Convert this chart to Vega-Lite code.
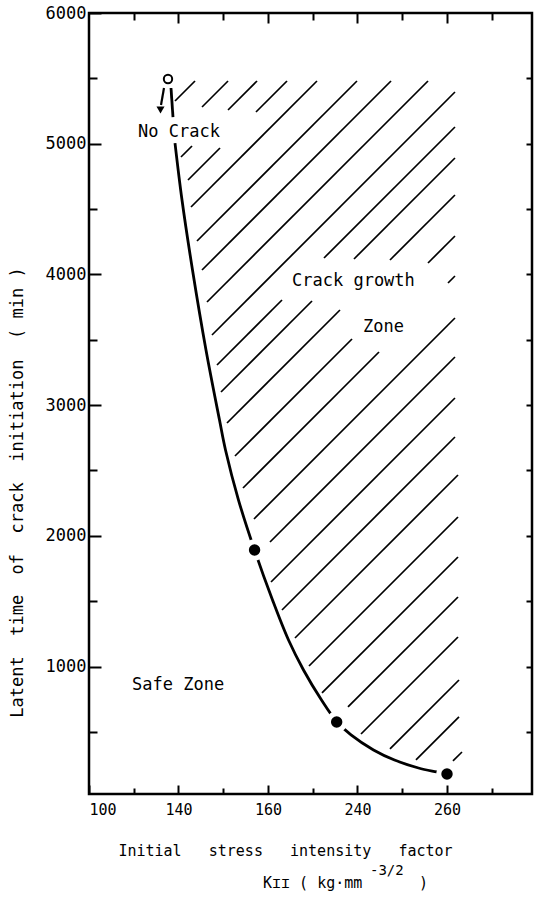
{
  "$schema": "https://vega.github.io/schema/vega-lite/v6.json",
  "width": 443,
  "height": 781,
  "autosize": {"type": "none"},
  "padding": {"left": 89, "top": 13, "right": 2, "bottom": 104},
  "background": "white",
  "config": {
    "view": {"stroke": "black", "strokeWidth": 2.5},
    "font": "DejaVu Sans Mono",
    "axis": {
      "domain": false, "grid": false, "tickColor": "black", "tickWidth": 2,
      "labelColor": "black", "titleColor": "black",
      "labelFont": "DejaVu Sans Mono", "titleFont": "DejaVu Sans Mono",
      "titleFontWeight": "normal"
    }
  },
  "datasets": {
    "curve": [
      {"x": 136.65, "y": 5426, "s": "a"}, {"x": 137.54, "y": 5204, "s": "a"},
      {"x": 138.44, "y": 5005, "s": "b"}, {"x": 141.57, "y": 4569, "s": "b"},
      {"x": 146.26, "y": 4034, "s": "b"}, {"x": 152.29, "y": 3422, "s": "b"},
      {"x": 158.33, "y": 2886, "s": "b"}, {"x": 161.01, "y": 2657, "s": "b"},
      {"x": 166.82, "y": 2274, "s": "b"}, {"x": 173.97, "y": 1892, "s": "b"},
      {"x": 182.02, "y": 1509, "s": "b"}, {"x": 189.17, "y": 1203, "s": "b"},
      {"x": 195.87, "y": 974, "s": "b"}, {"x": 203.92, "y": 744, "s": "b"},
      {"x": 210.85, "y": 576, "s": "b"}, {"x": 217.11, "y": 477, "s": "b"},
      {"x": 227.16, "y": 362, "s": "b"}, {"x": 236.54, "y": 285, "s": "b"},
      {"x": 247.27, "y": 224, "s": "b"}, {"x": 255.32, "y": 194, "s": "b"},
      {"x": 260.01, "y": 178, "s": "b"}
    ],
    "hatch": [
      {"x": 138.44, "y": 5326.7, "x2": 147.38, "y2": 5479.7},
      {"x": 150.51, "y": 5280.8, "x2": 162.13, "y2": 5479.7},
      {"x": 162.13, "y": 5257.8, "x2": 175.09, "y2": 5479.7},
      {"x": 141.12, "y": 4898.3, "x2": 146.04, "y2": 4982.4},
      {"x": 174.64, "y": 5242.5, "x2": 188.50, "y2": 5479.7},
      {"x": 144.25, "y": 4722.3, "x2": 158.55, "y2": 4967.1},
      {"x": 145.59, "y": 4515.8, "x2": 201.90, "y2": 5479.7},
      {"x": 148.27, "y": 4255.7, "x2": 219.78, "y2": 5479.7},
      {"x": 150.51, "y": 4033.8, "x2": 234.98, "y2": 5479.7},
      {"x": 152.74, "y": 3789.0, "x2": 251.52, "y2": 5479.7},
      {"x": 154.97, "y": 3536.6, "x2": 263.58, "y2": 5395.5},
      {"x": 157.21, "y": 3307.1, "x2": 186.26, "y2": 3804.3},
      {"x": 205.03, "y": 4125.6, "x2": 263.58, "y2": 5127.8},
      {"x": 159.00, "y": 3100.5, "x2": 199.67, "y2": 3796.7},
      {"x": 218.44, "y": 4118.0, "x2": 263.58, "y2": 4890.6},
      {"x": 161.68, "y": 2863.4, "x2": 212.18, "y2": 3727.8},
      {"x": 234.53, "y": 4110.3, "x2": 263.58, "y2": 4607.6},
      {"x": 165.25, "y": 2610.9, "x2": 217.55, "y2": 3506.0},
      {"x": 251.52, "y": 4087.4, "x2": 263.58, "y2": 4293.9},
      {"x": 168.83, "y": 2366.1, "x2": 229.62, "y2": 3406.5},
      {"x": 260.46, "y": 3934.4, "x2": 263.58, "y2": 3987.9},
      {"x": 173.75, "y": 2129.0, "x2": 263.58, "y2": 3666.6},
      {"x": 180.90, "y": 1953.0, "x2": 263.58, "y2": 3368.3},
      {"x": 181.35, "y": 1647.0, "x2": 263.58, "y2": 3054.6},
      {"x": 186.26, "y": 1432.8, "x2": 263.58, "y2": 2756.3},
      {"x": 192.07, "y": 1218.6, "x2": 264.93, "y2": 2465.6},
      {"x": 198.33, "y": 1004.4, "x2": 264.93, "y2": 2144.3},
      {"x": 204.14, "y": 797.9, "x2": 264.93, "y2": 1838.3},
      {"x": 215.76, "y": 690.8, "x2": 264.93, "y2": 1532.3},
      {"x": 221.57, "y": 484.2, "x2": 264.93, "y2": 1226.3},
      {"x": 234.53, "y": 369.5, "x2": 265.37, "y2": 897.3},
      {"x": 246.15, "y": 285.3, "x2": 265.37, "y2": 614.3},
      {"x": 262.69, "y": 277.7, "x2": 266.71, "y2": 346.5}
    ],
    "dots": [
      {"x": 174.0, "y": 1892}, {"x": 210.7, "y": 576}, {"x": 260.01, "y": 178}
    ],
    "open": [{"x": 135.31, "y": 5495}],
    "arrow": [{"x": 133.52, "y": 5426, "x2": 132.18, "y2": 5296}],
    "head": [{"x": 131.96, "y": 5258}],
    "notes": [
      {"x": 121.9, "y": 5051, "t": "No Crack"},
      {"x": 190.73, "y": 3911, "t": "Crack growth"},
      {"x": 222.46, "y": 3556, "t": "Zone"},
      {"x": 119.22, "y": 821, "t": "Safe Zone"}
    ],
    "unit": [{"x": 177.77, "y": -694, "t": "Kɪɪ\u00a0(\u00a0kg·mm"}, {"x": 247.5, "y": -694, "t": ")"}],
    "sup": [{"x": 225.6, "y": -594, "t": "-3/2"}]
  },
  "layer": [
    {
      "data": {"name": "hatch"},
      "mark": {"type": "rule", "color": "black", "strokeWidth": 1.7},
      "encoding": {
        "x": {"field": "x", "type": "quantitative", "scale": {"domain": [100, 298], "nice": false, "zero": false},
          "axis": {"orient": "top", "values": [120, 140, 160, 180, 200, 220, 240, 260, 280], "labels": false, "title": null,
            "tickSize": {"condition": {"test": "datum.value % 40 === 20", "value": -10}, "value": -7}}},
        "y": {"field": "y", "type": "quantitative", "scale": {"domain": [25, 6000], "nice": false, "zero": false},
          "axis": {"orient": "right", "values": [500, 1000, 1500, 2000, 2500, 3000, 3500, 4000, 4500, 5000, 5500], "labels": false, "title": null, "tickSize": -6}},
        "x2": {"field": "x2"},
        "y2": {"field": "y2"}
      }
    },
    {
      "data": {"name": "curve"},
      "mark": {"type": "line", "color": "black", "strokeWidth": 2.8, "interpolate": "catmull-rom"},
      "encoding": {
        "x": {"field": "x", "type": "quantitative", "scale": {"domain": [100, 298], "nice": false, "zero": false},
          "axis": {"orient": "bottom", "values": [100, 120, 140, 160, 180, 200, 220, 240, 260, 280],
            "labelExpr": "datum.value === 100 ? '100' : datum.value === 140 ? '140' : datum.value === 180 ? '160' : datum.value === 220 ? '240' : datum.value === 260 ? '260' : ''",
            "labelFontSize": 15, "labelPadding": 17,
            "tickSize": {"condition": {"test": "datum.value % 40 === 20", "value": -9}, "value": -6},
            "title": "Initial\u00a0\u00a0\u00a0stress\u00a0\u00a0\u00a0intensity\u00a0\u00a0\u00a0factor",
            "titleFontSize": 15, "titleX": 196, "titleY": 61, "titleAlign": "center", "titleBaseline": "alphabetic"}},
        "y": {"field": "y", "type": "quantitative", "scale": {"domain": [25, 6000], "nice": false, "zero": false},
          "axis": {"orient": "left", "values": [500, 1000, 1500, 2000, 2500, 3000, 3500, 4000, 4500, 5000, 5500, 6000], "format": "d",
            "labelExpr": "datum.value % 1000 === 0 ? datum.label : ''",
            "labelFontSize": 17, "labelPadding": 15,
            "tickSize": {"condition": {"test": "datum.value % 1000 === 0", "value": -12}, "value": -8},
            "title": "Latent\u00a0\u00a0time\u00a0\u00a0of\u00a0\u00a0crack\u00a0\u00a0initiation\u00a0\u00a0(\u00a0min\u00a0)",
            "titleFontSize": 17, "titleX": -72, "titleY": 479, "titleAngle": 270, "titleAlign": "center", "titleBaseline": "middle"}},
        "detail": {"field": "s", "type": "nominal"}
      }
    },
    {
      "data": {"name": "dots"},
      "mark": {"type": "point", "shape": "circle", "filled": true, "fill": "black", "stroke": "white", "strokeWidth": 5, "size": 270, "opacity": 1},
      "encoding": {
        "x": {"field": "x", "type": "quantitative", "axis": null},
        "y": {"field": "y", "type": "quantitative", "axis": null}
      }
    },
    {
      "data": {"name": "open"},
      "mark": {"type": "point", "shape": "circle", "filled": true, "fill": "white", "stroke": "black", "strokeWidth": 2, "size": 70, "opacity": 1},
      "encoding": {
        "x": {"field": "x", "type": "quantitative", "axis": null},
        "y": {"field": "y", "type": "quantitative", "axis": null}
      }
    },
    {
      "data": {"name": "arrow"},
      "mark": {"type": "rule", "color": "black", "strokeWidth": 2.2},
      "encoding": {
        "x": {"field": "x", "type": "quantitative", "axis": null},
        "y": {"field": "y", "type": "quantitative", "axis": null},
        "x2": {"field": "x2"},
        "y2": {"field": "y2"}
      }
    },
    {
      "data": {"name": "head"},
      "mark": {"type": "point", "shape": "triangle-down", "filled": true, "color": "black", "size": 65, "opacity": 1},
      "encoding": {
        "x": {"field": "x", "type": "quantitative", "axis": null},
        "y": {"field": "y", "type": "quantitative", "axis": null}
      }
    },
    {
      "data": {"name": "notes"},
      "mark": {"type": "text", "align": "left", "baseline": "alphabetic", "fontSize": 17, "font": "DejaVu Sans Mono", "color": "black"},
      "encoding": {
        "x": {"field": "x", "type": "quantitative", "axis": null},
        "y": {"field": "y", "type": "quantitative", "axis": null},
        "text": {"field": "t"}
      }
    },
    {
      "data": {"name": "unit"},
      "mark": {"type": "text", "align": "left", "baseline": "alphabetic", "fontSize": 15, "font": "DejaVu Sans Mono", "color": "black"},
      "encoding": {
        "x": {"field": "x", "type": "quantitative", "axis": null},
        "y": {"field": "y", "type": "quantitative", "axis": null},
        "text": {"field": "t"}
      }
    },
    {
      "data": {"name": "sup"},
      "mark": {"type": "text", "align": "left", "baseline": "alphabetic", "fontSize": 14, "font": "DejaVu Sans Mono", "color": "black"},
      "encoding": {
        "x": {"field": "x", "type": "quantitative", "axis": null},
        "y": {"field": "y", "type": "quantitative", "axis": null},
        "text": {"field": "t"}
      }
    }
  ],
  "resolve": {"axis": {"x": "independent", "y": "independent"}}
}
